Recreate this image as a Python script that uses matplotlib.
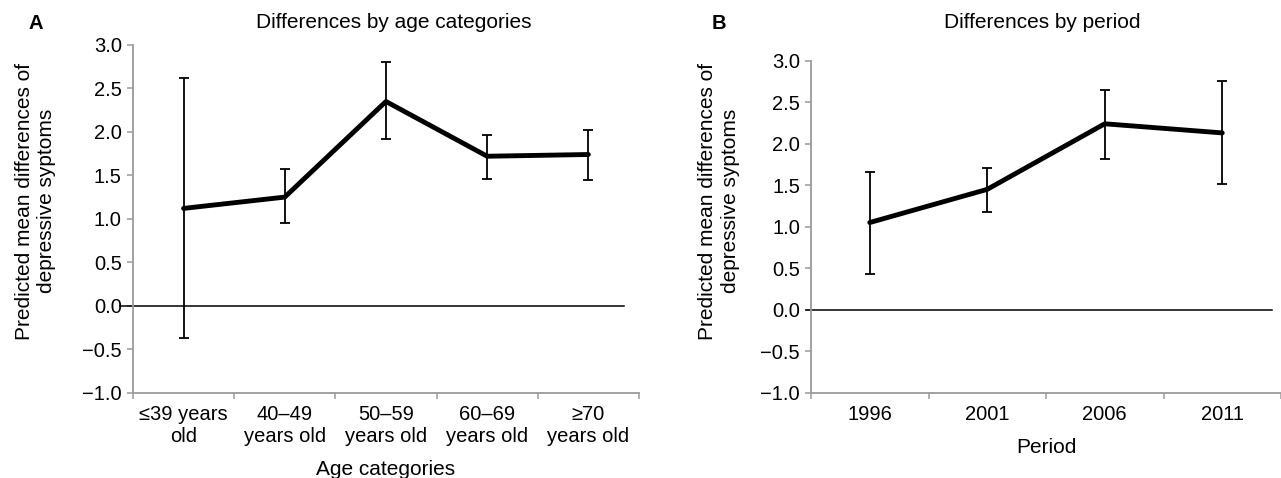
import numpy as np
import matplotlib
matplotlib.use("Agg")
import matplotlib.pyplot as plt

plt.rcParams['font.family'] = ['Liberation Sans', 'DejaVu Sans']
plt.rcParams['font.size'] = 14.5

# Panel A data: age categories
age_labels = ["\u226439 years\nold", "40\u201349\nyears old", "50\u201359\nyears old",
              "60\u201369\nyears old", "\u226570\nyears old"]
age_mean = [1.12, 1.25, 2.35, 1.72, 1.74]
age_upper = [2.62, 1.57, 2.80, 1.96, 2.02]
age_lower = [-0.37, 0.95, 1.92, 1.46, 1.45]

# Panel B data: period
period_labels = ["1996", "2001", "2006", "2011"]
period_mean = [1.05, 1.45, 2.24, 2.13]
period_upper = [1.66, 1.71, 2.65, 2.76]
period_lower = [0.43, 1.18, 1.81, 1.51]

ylab = "Predicted mean differences of\ndepressive syptoms"
grey = "#9a9a9a"

fig = plt.figure(figsize=(12.81, 4.78), dpi=100)
axA = fig.add_axes([0.1038, 0.1785, 0.395, 0.7274])
axB = fig.add_axes([0.6331, 0.1785, 0.3669, 0.6945])


def draw_panel(ax, labels, mean, lower, upper, xlabel, xlab_y, ylab_x, ylab_y, zmin, zmax):
    x = np.arange(len(labels))
    mean = np.array(mean)
    err = [mean - np.array(lower), np.array(upper) - mean]
    ax.errorbar(x, mean, yerr=err, fmt='none', ecolor='black', elinewidth=1.3,
                capsize=3.4, capthick=1.3, zorder=3)
    ax.plot(x, mean, color='black', lw=3.5, solid_capstyle='round', zorder=4)
    ax.axhline(0, xmin=zmin, xmax=zmax, color='black', lw=1.1, clip_on=False, zorder=2)

    ax.set_xlim(-0.5, len(labels) - 0.5)
    ax.set_ylim(-1.0, 3.0)
    ax.set_yticks(np.arange(-1.0, 3.01, 0.5))
    ax.set_yticklabels([f"{v:.1f}".replace("-", "\u2212") for v in np.arange(-1.0, 3.01, 0.5)])
    ax.set_xticks(x)
    ax.set_xticklabels(labels)
    ax.set_xticks(np.arange(-0.5, len(labels), 1.0), minor=True)
    ax.tick_params(axis='x', which='major', length=0, pad=9)
    ax.tick_params(axis='x', which='minor', length=4, width=1.1, color=grey)
    ax.tick_params(axis='y', length=4, width=1.1, color=grey, pad=4)

    for s in ['top', 'right']:
        ax.spines[s].set_visible(False)
    for s in ['left', 'bottom']:
        ax.spines[s].set_color(grey)
        ax.spines[s].set_linewidth(1.3)

    ax.set_xlabel(xlabel, fontsize=15)
    ax.xaxis.set_label_coords(0.5, xlab_y)
    ax.xaxis.label.set_va('center')
    ax.set_ylabel(ylab, linespacing=1.22, fontsize=15)
    ax.yaxis.set_label_coords(ylab_x, ylab_y)
    ax.yaxis.label.set_va('center')


draw_panel(axA, age_labels, age_mean, age_lower, age_upper, "Age categories",
           -0.222, -0.193, 0.551, -0.026, 0.970)
draw_panel(axB, period_labels, period_mean, period_lower, period_upper, "Period",
           -0.164, -0.196, 0.577, -0.011, 0.981)

fig.text(0.3076, 0.952, "Differences by age categories", ha='center', va='center', fontsize=15)
fig.text(0.814, 0.952, "Differences by period", ha='center', va='center', fontsize=15)
fig.text(0.028, 0.950, "A", ha='center', va='center', fontweight='bold')
fig.text(0.561, 0.950, "B", ha='center', va='center', fontweight='bold')

fig.savefig("out.png", dpi=100)
